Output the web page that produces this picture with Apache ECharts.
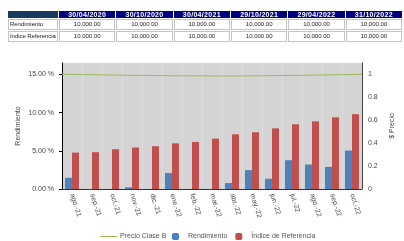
<!DOCTYPE html>
<html>
<head>
<meta charset="utf-8">
<script src="https://cdn.jsdelivr.net/npm/echarts@6/dist/echarts.min.js"></script>
<style>
  body { margin: 0; background: #fff; font-family: "Liberation Sans", Arial, sans-serif; }
  #wrap { position: relative; width: 404px; height: 241px; overflow: hidden; }
  #chart { position: absolute; left: 0; top: 0; width: 404px; height: 241px; }
  #tbl { position: absolute; left: 7px; top: 10px; width: 396px; border-collapse: separate; border-spacing: 1px; table-layout: fixed; }
  #tbl th { background: #000080; color: #fff; font-size: 7px; font-weight: bold; height: 7px; line-height: 7px; padding: 0; text-align: center; letter-spacing: 0.3px; }
  #tbl th.first { background: #173a5e; }
  #tbl td { border: 1px solid #c4c4c4; font-size: 6px; height: 9px; line-height: 9px; padding: 0 1px; color: #222; text-align: center; white-space: nowrap; overflow: hidden; }
  #tbl td.lbl { text-align: left; font-size: 6px; letter-spacing: -0.05px; }
</style>
</head>
<body>
<div id="wrap">
  <div id="chart"></div>
  <table id="tbl"></table>
</div>
<script>
// table data
var tableDates = ['30/04/2020', '30/10/2020', '30/04/2021', '29/10/2021', '29/04/2022', '31/10/2022'];
var tableRows = ['Rendimiento', 'Indice Referencia'];
var rendimientoTabla = ['10,000.00', '10,000.00', '10,000.00', '10,000.00', '10,000.00', '10,000.00'];
var indiceTabla = ['10,000.00', '10,000.00', '10,000.00', '10,000.00', '10,000.00', '10,000.00'];

// chart data
var months = ['ago.-21', 'sep.-21', 'oct.-21', 'nov.-21', 'dic.-21', 'ene.-22', 'feb.-22', 'mar.-22',
              'abr.-22', 'may.-22', 'jun.-22', 'jul.-22', 'ago.-22', 'sep.-22', 'oct.-22'];
var rendimiento = [1.47, 0, 0, 0.22, 0, 2.09, 0, 0, 0.78, 2.47, 1.34, 3.77, 3.2, 2.9, 5.03];
var indiceRef = [4.77, 4.82, 5.21, 5.43, 5.6, 5.98, 6.16, 6.6, 7.16, 7.43, 7.94, 8.47, 8.86, 9.38, 9.8];
var precioClaseB = [1.002, 0.999, 0.996, 0.993, 0.991, 0.989, 0.988, 0.987, 0.987, 0.988, 0.99, 0.992, 0.995, 0.998, 1.001];

// build table
var tbl = document.getElementById('tbl');
var html = '<colgroup><col style="width:50px">';
tableDates.forEach(function () { html += '<col>'; });
html += '</colgroup><tr><th class="first"></th>';
tableDates.forEach(function (d) { html += '<th>' + d + '</th>'; });
html += '</tr>';
[rendimientoTabla, indiceTabla].forEach(function (row, i) {
    html += '<tr><td class="lbl">' + tableRows[i] + '</td>';
    row.forEach(function (v) { html += '<td>' + v + '</td>'; });
    html += '</tr>';
});
tbl.innerHTML = html;

var chart = echarts.init(document.getElementById('chart'));
var txt = { fontFamily: 'Liberation Sans', fontSize: 7, color: '#444' };

var option = {
    animation: false,
    textStyle: { fontFamily: 'Liberation Sans' },
    grid: {
        left: 62, right: 36, top: 63, bottom: 52,
        show: true, backgroundColor: '#d4d4d4', borderWidth: 0
    },
    legend: [
        {
            data: ['Precio Clase B'],
            left: 95, top: 228,
            icon: 'rect',
            itemWidth: 17, itemHeight: 1,
            textStyle: { fontSize: 7, color: '#555', padding: [0, 0, 0, -2] }
        },
        {
            data: ['Rendimiento', 'Índice de Referencia'],
            left: 167, top: 228,
            itemWidth: 7, itemHeight: 7, itemGap: 8,
            textStyle: { fontSize: 7, color: '#555', padding: [0, 0, 0, 4] }
        }
    ],
    xAxis: [
        {
            type: 'category',
            data: months,
            axisLine: { lineStyle: { color: '#333' } },
            axisTick: { length: 3, lineStyle: { color: '#000' } },
            axisLabel: Object.assign({ rotate: -72, margin: 5, interval: 0 }, txt),
            splitLine: { show: true, lineStyle: { color: '#dcdcdc' } }
        },
        {
            type: 'category',
            data: months,
            boundaryGap: false,
            show: false
        }
    ],
    yAxis: [
        {
            type: 'value',
            min: 0, max: 16.5, interval: 5,
            name: 'Rendimiento',
            nameLocation: 'middle',
            nameMoveOverlap: false,
            nameGap: 40,
            nameTextStyle: { fontSize: 7, color: '#444' },
            axisLine: { show: true, lineStyle: { color: '#000' } },
            axisTick: { show: true, length: 3, lineStyle: { color: '#000' } },
            axisLabel: Object.assign({
                margin: 8, showMaxLabel: false,
                formatter: function (v) { return v.toFixed(2) + ' %'; }
            }, txt),
            splitLine: { show: false }
        },
        {
            type: 'value',
            min: 0, max: 1.1, interval: 0.2,
            name: '$ Precio',
            nameLocation: 'middle',
            nameRotate: 90,
            nameMoveOverlap: false,
            nameGap: 27,
            nameTextStyle: { fontSize: 7, color: '#444' },
            axisLine: { show: true, lineStyle: { color: '#444' } },
            axisTick: { show: false },
            axisLabel: Object.assign({ margin: 6, showMaxLabel: false }, txt),
            splitLine: { show: false }
        }
    ],
    series: [
        {
            name: 'Precio Clase B',
            type: 'line',
            xAxisIndex: 1,
            yAxisIndex: 1,
            data: precioClaseB,
            symbol: 'none',
            lineStyle: { color: '#9bbb59', width: 1 },
            itemStyle: { color: '#9bbb59' }
        },
        {
            name: 'Rendimiento',
            type: 'bar',
            data: rendimiento,
            barWidth: 7,
            barGap: '0%',
            itemStyle: { color: '#4f81bd' }
        },
        {
            name: 'Índice de Referencia',
            type: 'bar',
            data: indiceRef,
            barWidth: 7,
            barGap: '0%',
            itemStyle: { color: '#c0504d' }
        }
    ]
};
chart.setOption(option);
</script>
</body>
</html>
